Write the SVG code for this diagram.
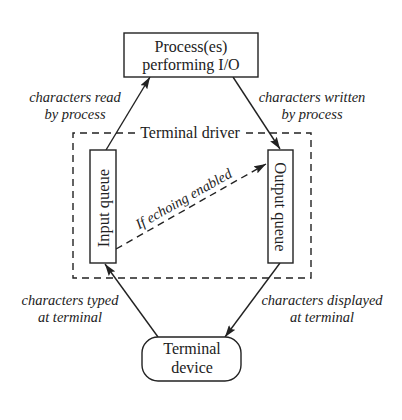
<svg xmlns="http://www.w3.org/2000/svg" width="402" height="420" viewBox="0 0 402 420">
<style>
.box{fill:#fff;stroke:#222;stroke-width:1.4}
.t{font-family:'Liberation Serif','DejaVu Serif','Times New Roman',serif;font-size:16px;fill:#222;text-anchor:middle}
.q{font-size:16.5px}
.i{font-family:'Liberation Serif','DejaVu Serif','Times New Roman',serif;font-style:italic;font-size:14.5px;fill:#222;text-anchor:middle}
.c{stroke:#222;stroke-width:1.4;fill:none}
.d{stroke-dasharray:7,5}
</style>
<defs>
<marker id="ah" viewBox="0 0 12 8" refX="12" refY="4" markerWidth="12" markerHeight="8" markerUnits="userSpaceOnUse" orient="auto">
<path d="M0,0 L12,4 L0,8 L2,4 Z" fill="#222"/>
</marker>
</defs>
<rect width="402" height="420" fill="#fff"/>
<g id="driver">
<path class="c d" d="M135,133 H73 V278 H311 V133 H246"/>
<text class="t" x="190" y="138">Terminal driver</text>
</g>
<g id="connectors">
<line class="c" x1="106" y1="150" x2="150" y2="77" marker-end="url(#ah)"/>
<line class="c" x1="233" y1="77" x2="280" y2="149" marker-end="url(#ah)"/>
<line class="c d" x1="116" y1="249" x2="266" y2="164" marker-end="url(#ah)"/>
<line class="c" x1="158" y1="337" x2="105" y2="264" marker-end="url(#ah)"/>
<line class="c" x1="280" y1="263" x2="225" y2="337" marker-end="url(#ah)"/>
<text class="i" x="75" y="102">characters read</text>
<text class="i" x="75" y="119">by process</text>
<text class="i" x="312" y="102">characters written</text>
<text class="i" x="312" y="119">by process</text>
<text class="i" x="70" y="305">characters typed</text>
<text class="i" x="70" y="322">at terminal</text>
<text class="i" x="322" y="305">characters displayed</text>
<text class="i" x="322" y="322">at terminal</text>
<text class="i" transform="translate(186,203) rotate(-29.5)">If echoing enabled</text>
</g>
<g id="process">
<rect class="box" x="124" y="33" width="134" height="44"/>
<text class="t" x="191" y="52">Process(es)</text>
<text class="t" x="191" y="70">performing I/O</text>
</g>
<g id="input-queue">
<rect class="box" x="90" y="150" width="26" height="113"/>
<text class="t q" transform="translate(109,208) rotate(-90)">Input queue</text>
</g>
<g id="output-queue">
<rect class="box" x="268" y="150" width="25" height="113"/>
<text class="t q" transform="translate(275,207) rotate(90)">Output queue</text>
</g>
<g id="terminal-device">
<rect class="box" x="142" y="337" width="99" height="44" rx="16"/>
<text class="t" x="192" y="354">Terminal</text>
<text class="t" x="192" y="373">device</text>
</g>
</svg>
